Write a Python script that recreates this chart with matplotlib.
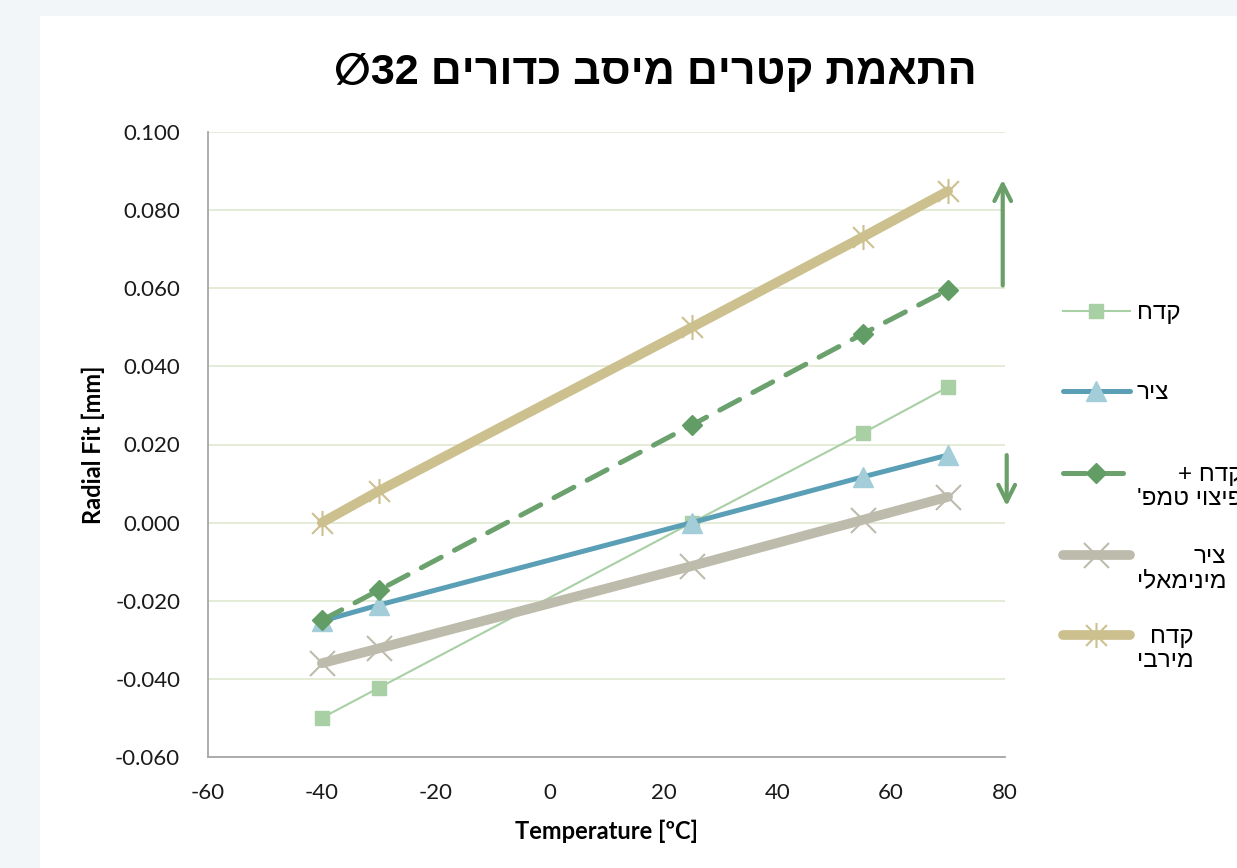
import matplotlib
matplotlib.use("Agg")
import matplotlib.pyplot as plt
from matplotlib.patches import Rectangle
from matplotlib.path import Path
from matplotlib.ticker import FormatStrFormatter, MultipleLocator

plt.rcParams['axes.unicode_minus'] = False
plt.rcParams['font.family'] = ['Lato', 'Liberation Sans', 'DejaVu Sans']

# data
temps = [-40, -30, 25, 55, 70]
bore = [-0.050, -0.0423, 0.0, 0.0229, 0.0347]
shaft = [-0.0252, -0.0211, 0.0, 0.0117, 0.0173]
bore_comp = [-0.0250, -0.0173, 0.0250, 0.0483, 0.0596]
shaft_min = [-0.0360, -0.0322, -0.0111, 0.0007, 0.0066]
bore_max = [0.0, 0.0081, 0.0500, 0.0731, 0.0849]

# hebrew labels (logical order), reversed for drawing left-to-right
title_he = "התאמת קטרים מיסב כדורים"
labels_he = ["קדח", "ציר", "קדח +\nפיצוי טמפ'", "ציר\nמינימאלי", "קדח\nמירבי"]
legend_rows = [313, 393, 487, 569, 649]  # pixel centre of each legend entry


def visual(s):
    return "\n".join(line[::-1] for line in s.split("\n"))


# excel style star marker: an x plus a vertical bar
star = Path([(-1, -1), (1, 1), (-1, 1), (1, -1), (0, -1.2), (0, 1.2)],
            [Path.MOVETO, Path.LINETO, Path.MOVETO, Path.LINETO, Path.MOVETO, Path.LINETO])

fig = plt.figure(figsize=(12.37, 8.68), dpi=100, facecolor='#f2f6f9')
fig.patches.append(Rectangle((40 / 1237, 0), 1, 1 - 16 / 868, transform=fig.transFigure,
                             facecolor='white', edgecolor='none', zorder=-10))
ax = fig.add_axes([208 / 1237, 1 - 757 / 868, 797 / 1237, 625 / 868])
ax.set_facecolor('white')

l1, = ax.plot(temps, bore, '-s', color='#a9cfa5', lw=1.5, ms=10, mec='#a9cfa5', mfc='#a9cfa5')
l2, = ax.plot(temps, shaft, '-^', color='#5b9fb6', lw=3.6, ms=15, mfc='#a3cdd8', mec='#a3cdd8',
              solid_capstyle='round')
l3, = ax.plot(temps, bore_comp, '--D', color='#6aa16d', lw=3.6, ms=10, mfc='#629d65', mec='#629d65',
              dashes=(4.5, 3), dash_capstyle='round')
l4, = ax.plot(temps, shaft_min, '-x', color='#bdbbab', lw=7, ms=18, mew=1.5, mec='#bdbbab',
              solid_capstyle='round')
l5, = ax.plot(temps, bore_max, '-', marker=star, color='#cdc08f', lw=7, ms=18, mew=1.5,
              mec='#cdc08f', solid_capstyle='round')

ax.set_xlim(-60, 80)
ax.set_ylim(-0.060, 0.100)
ax.xaxis.set_major_locator(MultipleLocator(20))
ax.yaxis.set_major_locator(MultipleLocator(0.02))
ax.yaxis.set_major_formatter(FormatStrFormatter('%.3f'))
ax.grid(True, axis='y', color='#dfe9cf', lw=1.2)
ax.set_axisbelow(True)
for s in ['top', 'right']:
    ax.spines[s].set_visible(False)
for s in ['left', 'bottom']:
    ax.spines[s].set_color('#a6a6a6')
    ax.spines[s].set_linewidth(1.3)
ax.tick_params(length=0, labelsize=16, colors='#1a1a1a')
ax.tick_params(axis='y', pad=20)
ax.tick_params(axis='x', pad=19)

ax.set_xlabel("Temperature [ºC]", fontsize=17, fontweight='bold', labelpad=12)
ax.set_ylabel("Radial Fit [mm]", fontsize=17, fontweight='bold', labelpad=7)

fig.text(0.5295, 1 - 73 / 868, "∅32 " + title_he[::-1], ha='center', va='center',
         fontsize=31, fontweight='bold', family=['Liberation Sans', 'DejaVu Sans'])

# arrows at the right edge
arrow = dict(arrowstyle='->', lw=3, color='#6a9f6a', mutation_scale=30)
ax.annotate('', xy=(79.6, 0.0885), xytext=(79.6, 0.060), arrowprops=arrow, annotation_clip=False)
ax.annotate('', xy=(80.3, 0.0035), xytext=(80.3, 0.0180), arrowprops=arrow, annotation_clip=False)

# one legend per entry so that each row sits where it does in the reference
for line, lab, yrow in zip([l1, l2, l3, l4, l5], labels_he, legend_rows):
    leg = fig.legend([line], [visual(lab)], loc='center left',
                     bbox_to_anchor=(1063 / 1237, 1 - yrow / 868),
                     frameon=False, handlelength=2.75, handletextpad=0.28,
                     borderaxespad=0, borderpad=0,
                     prop={'family': ['Liberation Sans', 'DejaVu Sans'], 'size': 17.5})
    for t in leg.get_texts():
        t.set_multialignment('right')
        t.set_linespacing(1.1)
    # keep the handle level with the first text line, as excel does
    for column in leg._legend_handle_box.get_children():
        for entry in column.get_children():
            entry.align = 'top'

fig.savefig('out.png', dpi=100, facecolor=fig.get_facecolor())
